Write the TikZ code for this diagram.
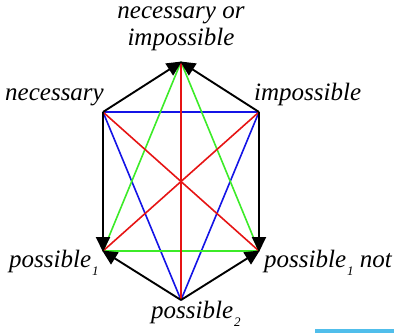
\documentclass[tikz,border=0pt]{standalone}
\usepackage{fontspec}
\setmainfont{Liberation Serif}[ItalicFont={Liberation Serif Italic}]
\newfontfamily\labfont{Liberation Serif}[UprightFont={* Italic}]
\usetikzlibrary{arrows.meta}
\definecolor{hexblue}{RGB}{20,20,230}
\definecolor{hexgreen}{RGB}{60,235,40}
\definecolor{hexred}{RGB}{230,20,20}
\definecolor{barblue}{RGB}{80,190,235}
\newcommand{\lowsub}[1]{\kern1pt\raisebox{-0.32em}{\fontsize{13}{13}\selectfont #1}}

\begin{document}
\begin{tikzpicture}[x=1pt,y=-1pt,
  lab/.style={inner sep=0pt,font=\fontsize{25}{27}\selectfont\labfont},
  arr/.style={line width=1.9pt,-{Triangle[length=15pt,width=14pt]},shorten >=-1pt},
  edge/.style={line width=1.6pt}]
  \useasboundingbox (0,0) rectangle (394,333);
  % vertices of the hexagon
  \coordinate (t) at (181,62);
  \coordinate (n) at (103,112);
  \coordinate (i) at (259,112);
  \coordinate (p) at (103,251);
  \coordinate (q) at (259,251);
  \coordinate (b) at (181,300);
  % coloured triangles
  \draw[edge,hexblue] (n) -- (i); \draw[edge,hexblue] (n) -- (b); \draw[edge,hexblue] (i) -- (b);
  \draw[edge,hexgreen] (p) -- (q); \draw[edge,hexgreen] (t) -- (p); \draw[edge,hexgreen] (t) -- (q);
  \draw[edge,hexred] (t) -- (b); \draw[edge,hexred] (n) -- (q); \draw[edge,hexred] (i) -- (p);
  % arrows
  \draw[arr] (n) -- (t); \draw[arr] (i) -- (t);
  \draw[arr] (n) -- (p); \draw[arr] (i) -- (q);
  \draw[arr] (b) -- (p); \draw[arr] (b) -- (q);
  % labels
  \node[lab,align=center] (tl) at (181,29) {necessary or\\impossible};
  \node[lab,anchor=base east] (nl) at (104,100) {necessary};
  \node[lab,anchor=base west] (il) at (254,100) {impossible};
  \node[lab,anchor=base west] (pl) at (9,267) {possible\lowsub{1}};
  \node[lab,anchor=base west] (ql) at (264,267) {possible\lowsub{1} not};
  \node[lab,anchor=base west] (bl) at (151,318) {possible\lowsub{2}};
  \fill[barblue] (315,329) rectangle (394,333);
\end{tikzpicture}
\end{document}
